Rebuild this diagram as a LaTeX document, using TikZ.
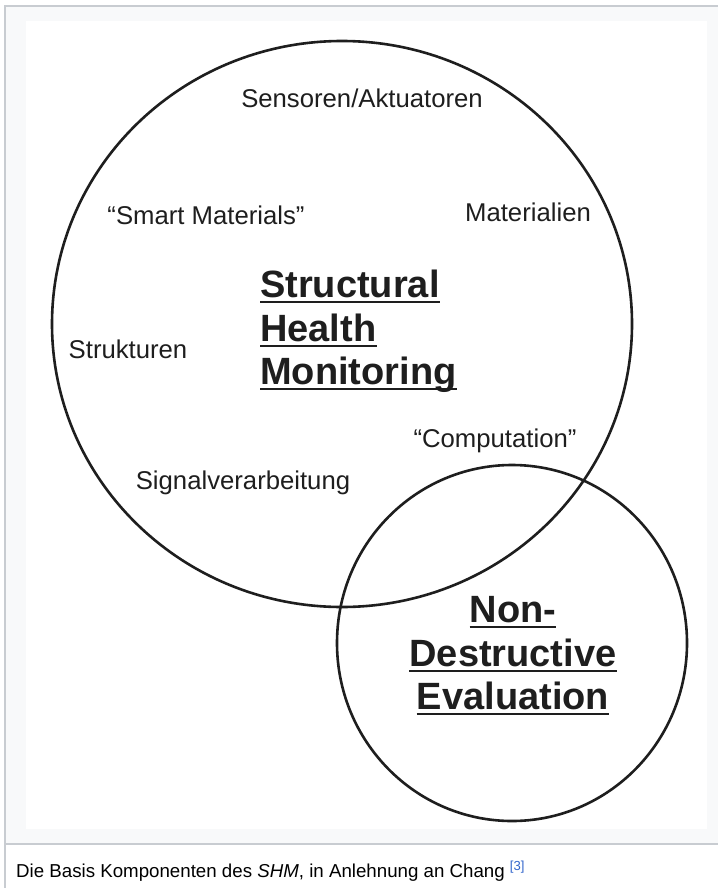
\documentclass[tikz,border=0pt]{standalone}
\usepackage{fontspec}
\setmainfont{Liberation Sans}
\usetikzlibrary{shapes.geometric}
\definecolor{ink}{HTML}{1E1E1E}
\definecolor{framebg}{HTML}{F8F9FA}
\definecolor{frameline}{HTML}{C8CCD1}
\definecolor{reflink}{HTML}{3366CC}

\begin{document}
\begin{tikzpicture}[x=1pt,y=-1pt,
  ring/.style={draw=ink, line width=2.6pt, ellipse, inner sep=0pt},
  tag/.style={anchor=base, inner sep=0pt, text=ink, font=\fontsize{25.7}{30}\selectfont},
  heading/.style={anchor=base west, inner sep=0pt, text=ink, font=\fontsize{38}{44}\selectfont\bfseries},
  uline/.style={draw=ink, line width=2.6pt},
  frameedge/.style={draw=frameline, line width=1.5pt}
]
\useasboundingbox (0,0) rectangle (718,888);
\fill[white] (0,0) rectangle (718,888);

% figure frame with its caption strip
\fill[framebg] (5,6) rectangle (718,844);
\draw[frameedge] (5,888) -- (5,6) -- (718,6);
\draw[frameedge] (5,844) -- (718,844);
\fill[white] (26,21) rectangle (707,829);

% the two overlapping fields
\node[ring, minimum width=580pt, minimum height=566pt] (shm) at (342,324) {};
\node[ring, minimum width=350pt, minimum height=356pt] (nde) at (512,643) {};

% components around the centre
\node[tag] (sens)  at (362,107) {Sensoren/Aktuatoren};
\node[tag] (smart) at (206,224) {“Smart Materials”};
\node[tag] (mat)   at (528,221) {Materialien};
\node[tag] (strk)  at (128,358) {Strukturen};
\node[tag] (comp)  at (495,447) {“Computation”};
\node[tag] (sig)   at (243,489) {Signalverarbeitung};

% main heading
\node[heading] (h1) at (260,297) {Structural};
\node[heading] (h2) at (260,341) {Health};
\node[heading] (h3) at (260,384) {Monitoring};

% second heading
\node[heading, anchor=base] (n1) at (513,622) {Non-};
\node[heading, anchor=base] (n2) at (513,666) {Destructive};
\node[heading, anchor=base] (n3) at (513,709) {Evaluation};

\foreach \n in {h1,h2,h3,n1,n2,n3}
  \draw[uline] ([yshift=-5pt]\n.base west) -- ([yshift=-5pt]\n.base east);

% caption
\node[anchor=base west, inner sep=0pt, font=\fontsize{18.7}{22}\selectfont] (cap) at (16,877)
  {Die Basis Komponenten des \textit{SHM}, in Anlehnung an Chang \textsuperscript{\textcolor{reflink}{[3]}}};
\end{tikzpicture}
\end{document}
